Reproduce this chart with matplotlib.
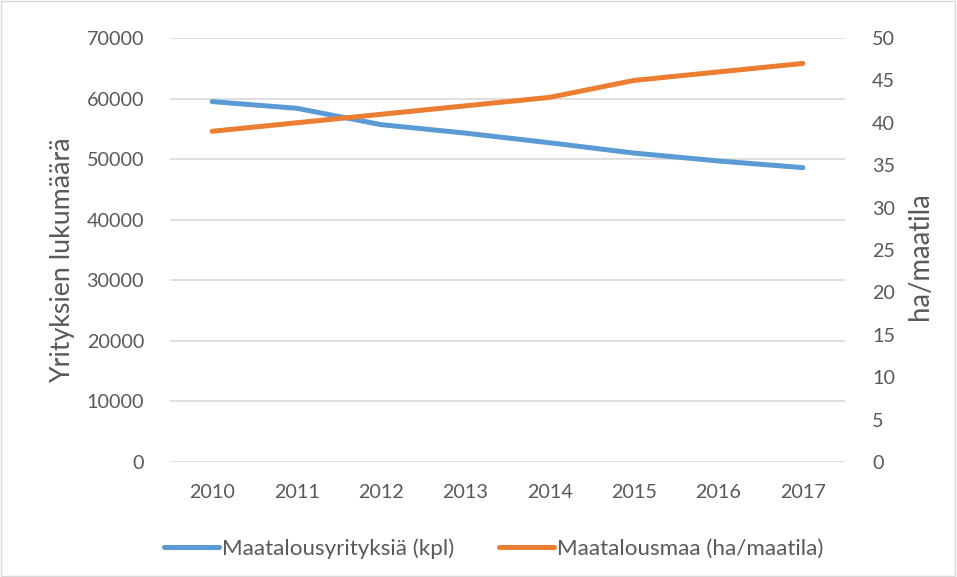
import matplotlib
matplotlib.use("Agg")
import matplotlib.pyplot as plt
from matplotlib.patches import Rectangle

years = ["2010", "2011", "2012", "2013", "2014", "2015", "2016", "2017"]
yritykset = [59500, 58400, 55700, 54300, 52700, 51000, 49700, 48600]
maa_ha = [39.0, 40.0, 41.0, 42.0, 43.0, 45.0, 46.0, 47.0]

left_ticks = [0, 10000, 20000, 30000, 40000, 50000, 60000, 70000]
right_ticks = [0, 5, 10, 15, 20, 25, 30, 35, 40, 45, 50]

label_left = "Yrityksien lukumäärä"
label_right = "ha/maatila"
series_names = ["Maatalousyrityksiä (kpl)", "Maatalousmaa (ha/maatila)"]

blue = "#5B9BD5"
orange = "#ED7D31"
txt = "#595959"
grid = "#D9D9D9"

plt.rcParams['font.family'] = ['Lato', 'DejaVu Sans']

W, H = 957, 577
fig = plt.figure(figsize=(W/100, H/100), dpi=100)
renderer = fig.canvas.get_renderer()


def fit(text, target_px):
    t = fig.text(0, 0, text, fontsize=10)
    w = t.get_window_extent(renderer).width
    t.remove()
    return 10 * target_px / w


fs_tick = fit("2010", 46)
fs_leg = fit(series_names[0], 232)
fs_yl = fit(label_left, 245)
fs_yr = fit(label_right, 128)

ax = fig.add_axes([170/W, 1-462/H, 675/W, 424/H])
ax2 = ax.twinx()

x = list(range(len(years)))
ax.plot(x, yritykset, color=blue, lw=3.6, solid_capstyle='round', zorder=3,
        label=series_names[0])
ax2.plot(x, maa_ha, color=orange, lw=3.6, solid_capstyle='round', zorder=3,
         label=series_names[1])

ax.set_xlim(-0.5, len(years)-0.5)
ax.set_ylim(0, 70000)
ax2.set_ylim(0, 50)
ax.set_yticks(left_ticks)
ax.set_yticklabels([str(v) for v in left_ticks])
ax2.set_yticks(right_ticks)
ax2.set_yticklabels([str(v) for v in right_ticks])
ax.set_xticks(x)
ax.set_xticklabels(years)

for a in (ax, ax2):
    for s in a.spines.values():
        s.set_visible(False)
    a.tick_params(length=0, colors=txt, labelsize=fs_tick)
ax.tick_params(axis='y', pad=26*0.72)
ax2.tick_params(axis='y', pad=27*0.72)
ax.tick_params(axis='x', pad=16)
ax.grid(axis='y', color=grid, lw=1.2)
ax.set_axisbelow(True)

fig.text(62.5/W, 1-260/H, label_left, rotation=90, ha='center', va='center',
         color=txt, fontsize=fs_yl)
fig.text(920.5/W, 1-256/H, label_right, rotation=90, ha='center', va='center',
         color=txt, fontsize=fs_yr)

h1, l1 = ax.get_legend_handles_labels()
h2, l2 = ax2.get_legend_handles_labels()
em = fs_leg * 100 / 72
leg = fig.legend(h1 + h2, l1 + l2, loc='center', bbox_to_anchor=(494/W, 1-549/H),
                 ncol=2, frameon=False, fontsize=fs_leg, handlelength=55/em,
                 handletextpad=3/em, columnspacing=45/em, labelcolor=txt)

fig.patches.append(Rectangle((0.001, 0.001), 0.997, 0.997, transform=fig.transFigure,
                             fill=False, edgecolor="#D9D9D9", lw=1))

fig.savefig("out.png", dpi=100)
